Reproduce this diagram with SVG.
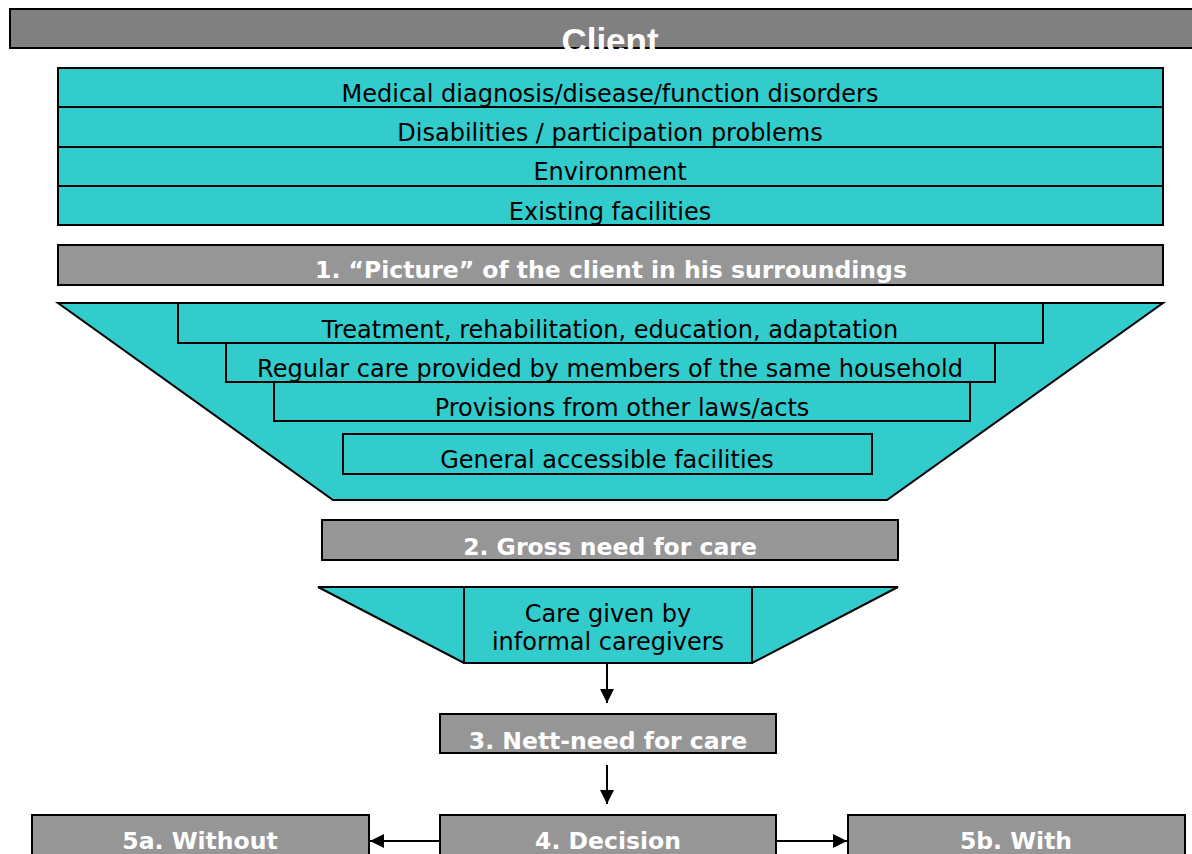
<svg xmlns="http://www.w3.org/2000/svg" width="1192" height="854" viewBox="0 0 1192 854">
<defs>
<style>
.cy{fill:#33CCCC;stroke:#000;stroke-width:2}
.gr{fill:#969696;stroke:#000;stroke-width:2}
.t{font-family:"DejaVu Sans",Verdana,sans-serif;font-size:24px;fill:#000;text-anchor:middle}
.b{font-family:"DejaVu Sans",Verdana,sans-serif;font-weight:bold;font-size:23.5px;fill:#fff;text-anchor:middle}
.ln{stroke:#000;stroke-width:2;fill:none}
</style>
<marker id="ah" viewBox="0 0 10 10" refX="10" refY="5" markerWidth="7.5" markerHeight="7" markerUnits="strokeWidth" orient="auto">
<path d="M0,0 L10,5 L0,10 z" fill="#000"/>
</marker>
</defs>
<rect width="1192" height="854" fill="#fff"/>
<g id="client">
<rect x="10" y="9" width="1190" height="39" fill="#808080" stroke="#000" stroke-width="2"/>
<text x="610" y="53" font-family="'Liberation Sans',Arial,sans-serif" font-weight="bold" font-size="35" fill="#fff" text-anchor="middle">Client</text>
</g>
<g id="client-factors">
<rect class="cy" x="58" y="68" width="1105" height="39"/>
<text class="t" x="610" y="102">Medical diagnosis/disease/function disorders</text>
<rect class="cy" x="58" y="107" width="1105" height="40"/>
<text class="t" x="610" y="141">Disabilities / participation problems</text>
<rect class="cy" x="58" y="147" width="1105" height="39"/>
<text class="t" x="610" y="180">Environment</text>
<rect class="cy" x="58" y="186" width="1105" height="39"/>
<text class="t" x="610" y="220">Existing facilities</text>
</g>
<g id="step1">
<rect class="gr" x="58" y="245" width="1105" height="40"/>
<text class="b" x="611" y="278">1. “Picture” of the client in his surroundings</text>
</g>
<g id="funnel1">
<polygon class="cy" points="58,303 1163,303 887,500 333,500"/>
<rect class="cy" x="178" y="303" width="865" height="40"/>
<text class="t" x="610" y="338">Treatment, rehabilitation, education, adaptation</text>
<rect class="cy" x="226" y="343" width="769" height="39"/>
<text class="t" x="610" y="377">Regular care provided by members of the same household</text>
<rect class="cy" x="274" y="382" width="696" height="39"/>
<text class="t" x="622" y="416">Provisions from other laws/acts</text>
<rect class="cy" x="343" y="434" width="529" height="40"/>
<text class="t" x="607" y="468">General accessible facilities</text>
</g>
<g id="step2">
<rect class="gr" x="322" y="520" width="576" height="40"/>
<text class="b" x="610" y="555">2. Gross need for care</text>
</g>
<g id="funnel2">
<polygon class="cy" points="318,587 898,587 752,663 464,663"/>
<rect class="cy" x="464" y="587" width="288" height="76"/>
<text class="t" x="608" y="622">Care given by</text>
<text class="t" x="608" y="650">informal caregivers</text>
</g>
<g id="step3">
<rect class="gr" x="440" y="714" width="336" height="39"/>
<text class="b" x="608" y="749">3. Nett-need for care</text>
</g>
<g id="step4">
<rect class="gr" x="440" y="815" width="336" height="45"/>
<text class="b" x="608" y="849">4. Decision</text>
</g>
<g id="step5a">
<rect class="gr" x="32" y="815" width="337" height="45"/>
<text class="b" x="200" y="849">5a. Without</text>
</g>
<g id="step5b">
<rect class="gr" x="848" y="815" width="337" height="45"/>
<text class="b" x="1016" y="849">5b. With</text>
</g>
<g id="connectors">
<line class="ln" x1="607" y1="664" x2="607" y2="703" marker-end="url(#ah)"/>
<line class="ln" x1="607" y1="765" x2="607" y2="804" marker-end="url(#ah)"/>
<line class="ln" x1="440" y1="841" x2="370" y2="841" marker-end="url(#ah)"/>
<line class="ln" x1="776" y1="841" x2="847" y2="841" marker-end="url(#ah)"/>
</g>
</svg>
